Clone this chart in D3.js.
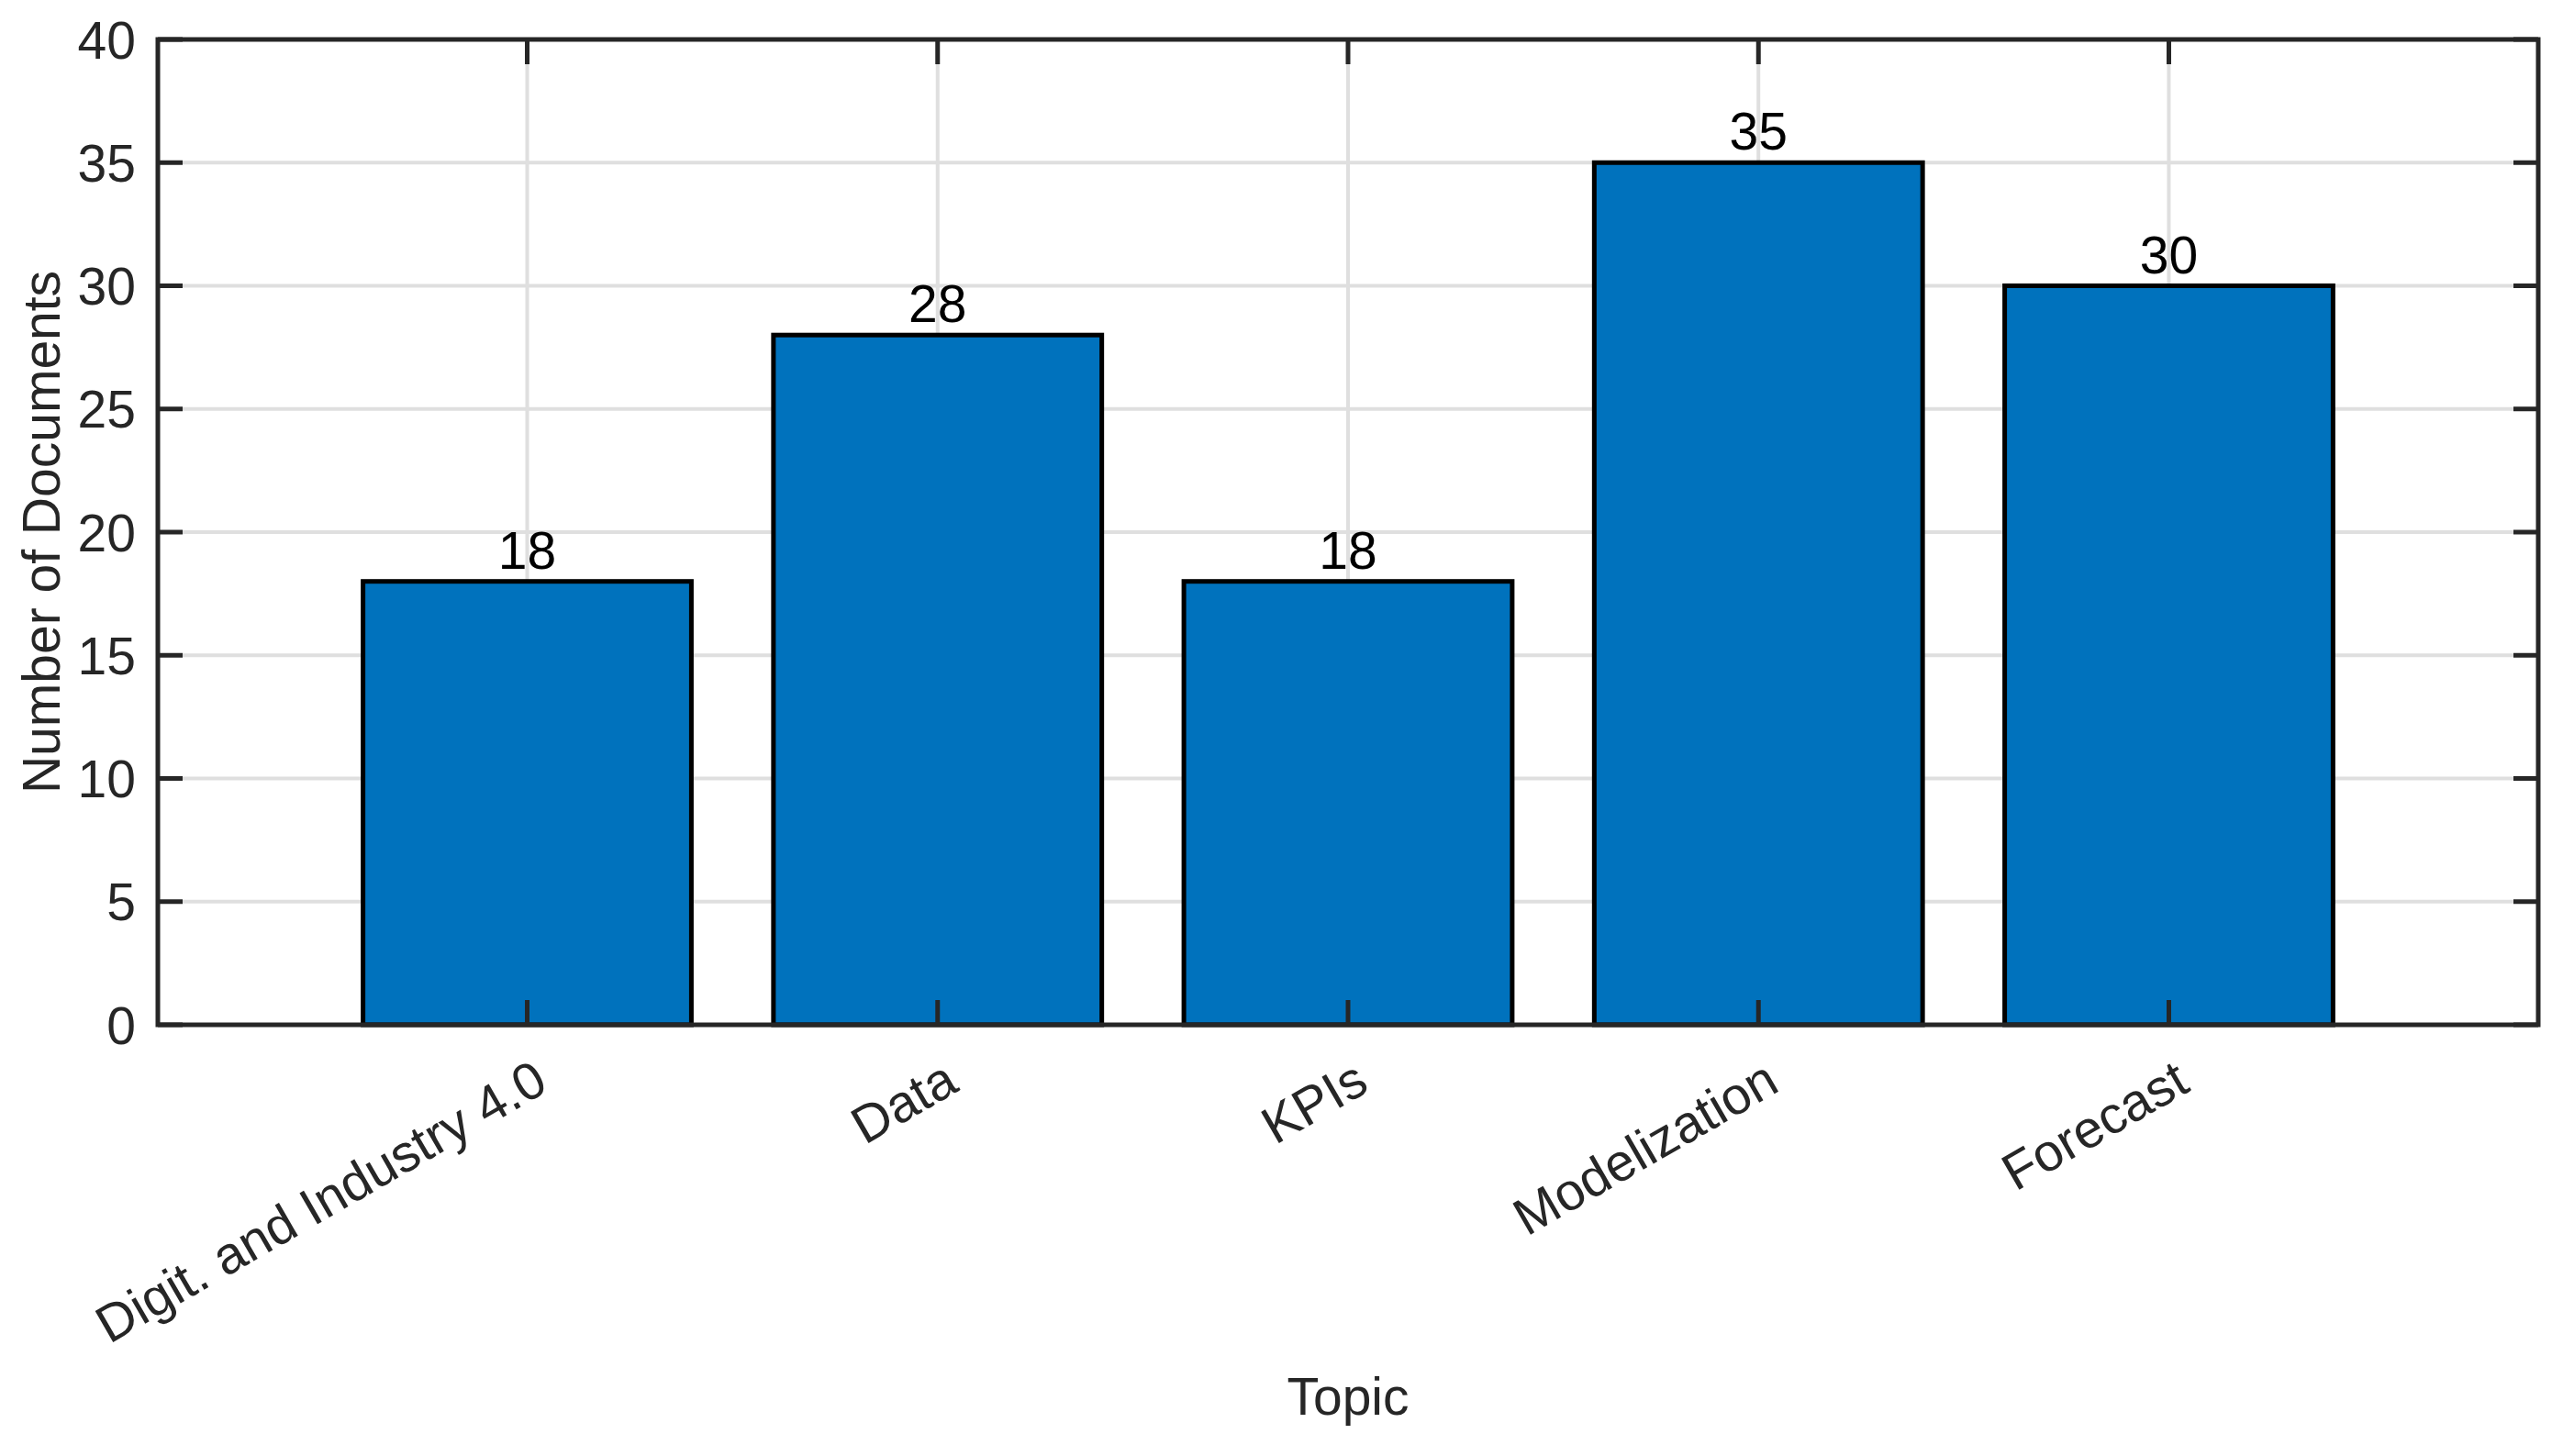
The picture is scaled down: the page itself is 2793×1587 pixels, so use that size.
<!DOCTYPE html>
<html>
<head>
<meta charset="utf-8">
<script src="https://cdn.jsdelivr.net/npm/d3@7"></script>
<style>
  html, body { margin: 0; padding: 0; background: #fff; }
  svg { display: block; }
  text { font-family: "Liberation Sans", Arial, Helvetica, sans-serif; }
</style>
</head>
<body>
<svg id="chart" width="2793" height="1587"></svg>
<script>
const categories = ["Digit. and Industry 4.0", "Data", "KPIs", "Modelization", "Forecast"];
const values = [18, 28, 18, 35, 30];
const yTicks = [0, 5, 10, 15, 20, 25, 30, 35, 40];
const xLabel = "Topic";
const yLabel = "Number of Documents";

const W = 2793, H = 1587;
const m = { left: 172, right: 2766, top: 43, bottom: 1117 };
const axisColor = "#262626";
const fs = 57;

const svg = d3.select("#chart");

// categorical positions 1..n on a linear axis from 0.1 to n+0.9
const x = d3.scaleLinear().domain([0.1, categories.length + 0.9]).range([m.left, m.right]);
const y = d3.scaleLinear().domain([0, 40]).range([m.bottom, m.top]);
const barW = x(0.8) - x(0);

// grid
const grid = svg.append("g");
grid.selectAll("line.h").data(yTicks).join("line")
  .attr("x1", m.left).attr("x2", m.right)
  .attr("y1", d => y(d)).attr("y2", d => y(d))
  .attr("stroke", "#dfdfdf").attr("stroke-width", 4);
grid.selectAll("line.v").data(categories).join("line")
  .attr("x1", (d, i) => x(i + 1)).attr("x2", (d, i) => x(i + 1))
  .attr("y1", m.top).attr("y2", m.bottom)
  .attr("stroke", "#dfdfdf").attr("stroke-width", 4);

// bars
svg.append("g").selectAll("rect").data(values).join("rect")
  .attr("x", (d, i) => x(i + 1) - barW / 2)
  .attr("width", barW)
  .attr("y", d => y(d))
  .attr("height", d => y(0) - y(d))
  .attr("fill", "#0072BD")
  .attr("stroke", "#000")
  .attr("stroke-width", 5);

// value labels
svg.append("g").selectAll("text").data(values).join("text")
  .attr("x", (d, i) => x(i + 1))
  .attr("y", d => y(d) - 14)
  .attr("text-anchor", "middle")
  .attr("font-size", fs)
  .attr("fill", "#000")
  .text(d => d);

// ticks (inward, all four sides)
const tl = 27;
const ticks = svg.append("g").attr("stroke", axisColor).attr("stroke-width", 5);
yTicks.forEach(t => {
  ticks.append("line").attr("x1", m.left).attr("x2", m.left + tl).attr("y1", y(t)).attr("y2", y(t));
  ticks.append("line").attr("x1", m.right).attr("x2", m.right - tl).attr("y1", y(t)).attr("y2", y(t));
});
categories.forEach((c, i) => {
  ticks.append("line").attr("x1", x(i + 1)).attr("x2", x(i + 1)).attr("y1", m.bottom).attr("y2", m.bottom - tl);
  ticks.append("line").attr("x1", x(i + 1)).attr("x2", x(i + 1)).attr("y1", m.top).attr("y2", m.top + tl);
});

// box
svg.append("rect")
  .attr("x", m.left).attr("y", m.top)
  .attr("width", m.right - m.left).attr("height", m.bottom - m.top)
  .attr("fill", "none").attr("stroke", axisColor).attr("stroke-width", 5);

// y tick labels
svg.append("g").selectAll("text").data(yTicks).join("text")
  .attr("x", m.left - 24)
  .attr("y", d => y(d))
  .attr("dy", "0.36em")
  .attr("text-anchor", "end")
  .attr("font-size", fs)
  .attr("fill", axisColor)
  .text(d => d);

// x tick labels (rotated)
svg.append("g").selectAll("text").data(categories).join("text")
  .attr("transform", (d, i) => `translate(${x(i + 1) + 25},${m.bottom + 71}) rotate(-30)`)
  .attr("text-anchor", "end")
  .attr("font-size", fs)
  .attr("fill", axisColor)
  .text(d => d);

// axis labels
svg.append("text")
  .attr("x", (m.left + m.right) / 2)
  .attr("y", 1542)
  .attr("text-anchor", "middle")
  .attr("font-size", fs)
  .attr("fill", axisColor)
  .text(xLabel);

svg.append("text")
  .attr("transform", `translate(65,${(m.top + m.bottom) / 2}) rotate(-90)`)
  .attr("text-anchor", "middle")
  .attr("font-size", fs)
  .attr("fill", axisColor)
  .text(yLabel);
</script>
</body>
</html>
